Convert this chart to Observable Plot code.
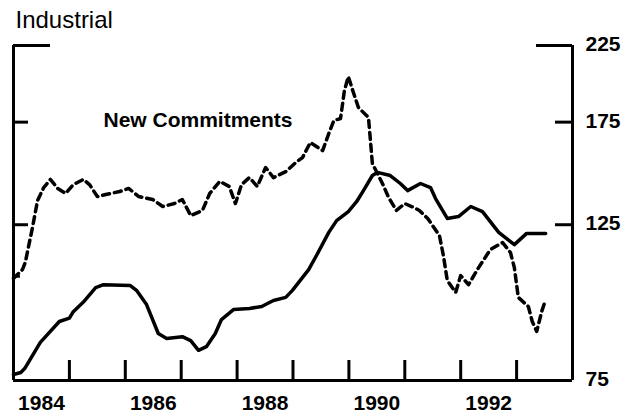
<!DOCTYPE html>
<html>
<head>
<meta charset="utf-8">
<script src="https://cdn.jsdelivr.net/npm/d3@7"></script>
<script src="https://cdn.jsdelivr.net/npm/@observablehq/plot@0.6"></script>
<style>
  html, body { margin: 0; padding: 0; background: #fff; }
  #chart svg { display: block; }
</style>
</head>
<body>
<div id="chart"></div>
<script>
// Solid series (decimal year, index value)
const solidYears = [1984.00, 1984.13, 1984.20, 1984.48, 1984.82, 1985.00, 1985.07, 1985.25, 1985.47, 1985.61,
  1986.09, 1986.20, 1986.38, 1986.59, 1986.74, 1987.02, 1987.17, 1987.31, 1987.45, 1987.61,
  1987.72, 1987.94, 1988.22, 1988.44, 1988.65, 1988.87, 1988.99, 1989.28, 1989.42, 1989.64,
  1989.78, 1989.99, 1990.14, 1990.26, 1990.42, 1990.51, 1990.74, 1990.92, 1991.05, 1991.28,
  1991.46, 1991.55, 1991.76, 1991.96, 1992.18, 1992.39, 1992.68, 1992.96, 1993.18, 1993.52];
const solidValues = [76.5, 77, 78, 85, 91, 92, 94, 97, 101.7, 102.7,
  102.4, 100.8, 96.2, 87.5, 86.1, 86.6, 85.5, 82.8, 83.8, 87.5,
  91.6, 94.7, 95.0, 95.6, 97.5, 98.5, 100.8, 107.9, 113.0, 121.9,
  126.7, 130.5, 134.9, 139.8, 146.9, 148.4, 146.9, 143.1, 139.8, 143.1,
  141.2, 136.2, 127.6, 128.4, 132.7, 130.5, 121.9, 117.1, 121.5, 121.5];

// New Commitments (dashed)
const commitYears = [1984.00, 1984.16, 1984.21, 1984.34, 1984.43, 1984.54, 1984.66, 1984.79, 1984.93, 1985.07,
  1985.25, 1985.36, 1985.50, 1985.65, 1985.90, 1986.06, 1986.24, 1986.49, 1986.67, 1986.88,
  1987.02, 1987.17, 1987.38, 1987.51, 1987.69, 1987.86, 1987.97, 1988.08, 1988.22, 1988.36,
  1988.51, 1988.65, 1988.87, 1989.07, 1989.17, 1989.31, 1989.53, 1989.64, 1989.73, 1989.85,
  1989.92, 1989.99, 1990.08, 1990.17, 1990.35, 1990.42, 1990.60, 1990.71, 1990.85, 1991.00,
  1991.16, 1991.26, 1991.41, 1991.62, 1991.69, 1991.76, 1991.91, 1992.00, 1992.14, 1992.32,
  1992.53, 1992.75, 1992.89, 1992.96, 1993.03, 1993.21, 1993.28, 1993.36, 1993.45, 1993.52];
const commitValues = [104.8, 107.9, 110.4, 123.9, 135.3, 141.2, 145.0, 140.8, 138.5, 142.6,
  145.0, 142.6, 137.1, 138.0, 139.4, 140.8, 137.1, 135.8, 132.7, 134.0,
  135.8, 128.8, 131.0, 138.5, 144.1, 141.7, 134.0, 142.6, 145.9, 141.7,
  150.8, 145.9, 148.8, 153.8, 155.8, 163.7, 159.4, 168.6, 175.9, 177.1,
  194.1, 203.2, 192.9, 183.6, 177.7, 152.8, 143.1, 136.7, 131.0, 134.0,
  132.3, 131.0, 127.6, 120.6, 113.0, 104.1, 100.1, 105.8, 102.7, 108.6,
  115.2, 117.9, 114.1, 108.6, 98.5, 95.6, 91.0, 88.1, 94.1, 97.8];

const yearTicks = [1985, 1986, 1987, 1988, 1989, 1990, 1991, 1992, 1993];
const yearLabels = [1984, 1986, 1988, 1990, 1992];
const rightTicks = [175, 125];
const rightLabels = [225, 175, 125, 75];
const leftTicks = [175, 125];
const leftMinorTicks = [105.5];
const titleText = "Industrial";
const seriesLabel = "New Commitments";

const solid = solidYears.map((x, i) => ({x, v: solidValues[i]}));
const commit = commitYears.map((x, i) => ({x, v: commitValues[i]}));

const W = 621, H = 415;
const mL = 13, mR = 49, mT = 45, mB = 35;
const frameW = W - mL - mR;
const frameH = H - mT - mB;
const font = "'Liberation Sans', Arial, Helvetica, sans-serif";

const chart = Plot.plot({
  width: W,
  height: H,
  marginLeft: mL,
  marginRight: mR,
  marginTop: mT,
  marginBottom: mB,
  style: {background: "#fff", fontFamily: font, color: "#000", overflow: "visible"},
  x: {type: "linear", domain: [1984, 1994], axis: null},
  y: {type: "log", domain: [75, 225], axis: null},
  marks: [
    // frame: left, right, bottom lines
    Plot.ruleX([1984, 1994], {stroke: "#000", strokeWidth: 3}),
    Plot.ruleY([75], {stroke: "#000", strokeWidth: 3}),
    // top corner stubs
    Plot.ruleY([225], {stroke: "#000", strokeWidth: 3, insetRight: frameW - 37}),
    Plot.ruleY([225], {stroke: "#000", strokeWidth: 3, insetLeft: frameW - 36}),
    // left inward ticks
    Plot.ruleY(leftTicks, {stroke: "#000", strokeWidth: 3, insetRight: frameW - 15}),
    Plot.ruleY(leftMinorTicks, {stroke: "#000", strokeWidth: 2.5, insetRight: frameW - 7}),
    // right inward ticks
    Plot.ruleY(rightTicks, {stroke: "#000", strokeWidth: 3, insetLeft: frameW - 17}),
    // bottom upward ticks
    Plot.ruleX(yearTicks, {stroke: "#000", strokeWidth: 3, insetTop: frameH - 20}),
    // series
    Plot.line(solid, {x: "x", y: "v", stroke: "#000", strokeWidth: 3.5, strokeLinejoin: "round", strokeLinecap: "round"}),
    Plot.line(commit, {x: "x", y: "v", stroke: "#000", strokeWidth: 3.5, strokeDasharray: "7,5", strokeLinejoin: "round"}),
    // labels
    Plot.text(yearLabels, {x: d => d + 0.5, y: () => 75, text: d => String(d), dy: 23,
      fontSize: 21, fontWeight: "bold", fill: "#000"}),
    Plot.text(rightLabels, {x: () => 1994, y: d => d, text: d => String(d), dx: 13, dy: -1,
      textAnchor: "start", fontSize: 21, fontWeight: "bold", fill: "#000"}),
    Plot.text([titleText], {x: () => 1984, y: () => 225, text: d => d, dx: 2, dy: -25,
      textAnchor: "start", fontSize: 24, fill: "#000"}),
    Plot.text([seriesLabel], {x: () => 1985.61, y: () => 176, text: d => d,
      textAnchor: "start", fontSize: 21, fontWeight: "bold", fill: "#000"})
  ]
});

document.getElementById("chart").appendChild(chart);
</script>
</body>
</html>
